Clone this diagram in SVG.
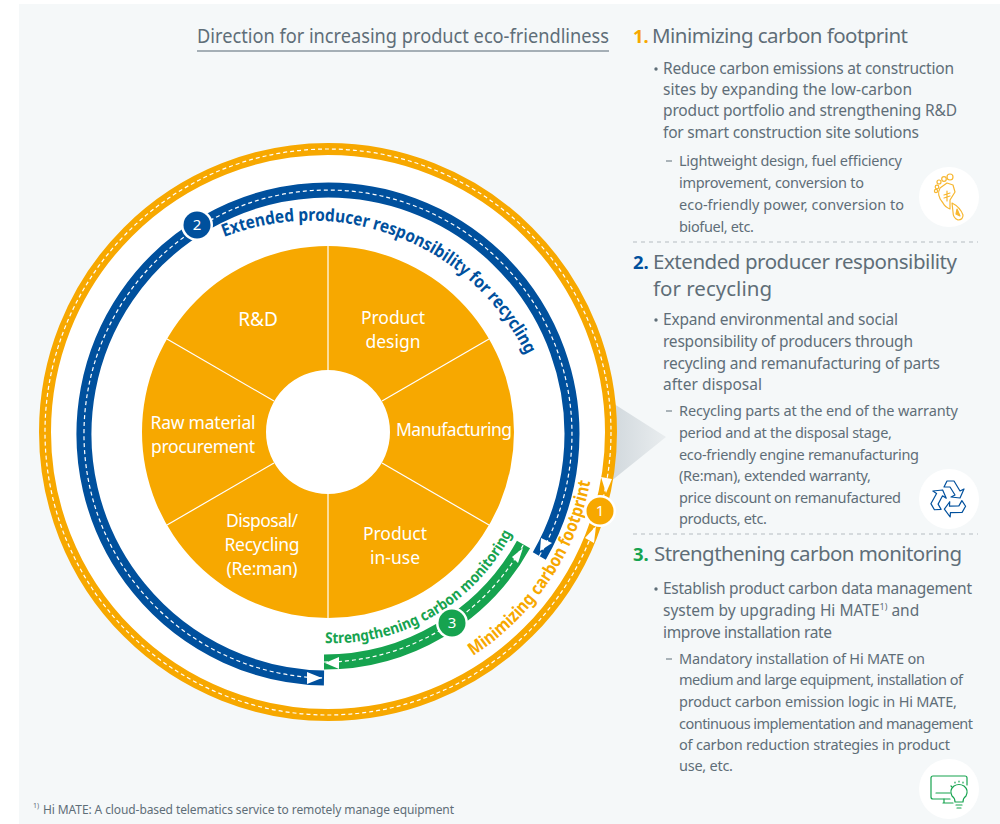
<svg xmlns="http://www.w3.org/2000/svg" width="1000" height="824" viewBox="0 0 1000 824">
<style>
text{font-family:"Noto Sans","Liberation Sans",sans-serif;fill:#5f6e78}
.h{font-size:20.5px}
.b{font-size:15.5px}
.s{font-size:14.5px}
.w{font-size:17.5px;fill:#fff;text-anchor:middle}
.n{font-size:15px;fill:#fff;text-anchor:middle}
.cb{font-weight:700;font-size:17.5px;fill:#00509d}
.cg{font-weight:700;font-size:15px;fill:#16a34f}
.co{font-weight:700;font-size:17.5px;fill:#f7a800}
.num{font-weight:700;font-size:18.5px}
.dash{fill:none;stroke:#fff;stroke-width:1.2;stroke-dasharray:4 3}
.sep{stroke:#b5bcc1;stroke-width:1;stroke-dasharray:4 4}
.ico{fill:none;stroke-width:1.2;stroke-linejoin:round;stroke-linecap:round}
</style>
<defs>
<linearGradient id="tri" x1="0" y1="0" x2="1" y2="0"><stop offset="0" stop-color="#ccd4d9"/><stop offset="1" stop-color="#e9edef"/></linearGradient>
<path id="pb" d="M224,237 A240,240 0 0 1 541,393"/>
<path id="pg" d="M325,643 A200,200 0 0 0 517,522"/>
<path id="po" d="M473,656 A267,267 0 0 0 593,465"/>
<path id="rec" d="M-5,-12 L-2,-18 H5 L11,-8 L15,-10 L11,-1 L2,-2 L6,-4 L1,-12Z"/>
</defs>
<rect x="19" y="4" width="981" height="820" fill="#f5f8f9"/>
<polygon points="600,395 666,437 600,490" fill="url(#tri)"/>
<g id="title"><text x="197" y="43" font-size="19.5" textLength="412" lengthAdjust="spacingAndGlyphs">Direction for increasing product eco-friendliness</text>
<line x1="197" y1="51" x2="609" y2="51" stroke="#8a979f" stroke-width="1.5"/></g>
<g id="connectors">
<circle cx="328" cy="432" r="279" fill="#fff" stroke="#eef2f4" stroke-width="2"/>
<circle cx="328" cy="432" r="283" fill="none" stroke="#f7a800" stroke-width="12"/>
<circle cx="328" cy="432" r="283" class="dash"/>
<polygon points="606,493 601,477 612,479" fill="#fff"/>
<polygon points="596,526 585,538 594,543" fill="#fff"/>
<path d="M539.3,556 A244,244 0 1 0 324,678" fill="none" stroke="#00509d" stroke-width="15"/>
<path d="M539.3,556 A244,244 0 1 0 324,678" class="dash"/>
<polygon points="322,678 307,672 307,684" fill="#fff"/>
<polygon points="540,551 541,538 552,543" fill="#fff"/>
<path d="M324,662 A228,228 0 0 0 523.5,544.5" fill="none" stroke="#16a34f" stroke-width="15"/>
<path d="M324,662 A228,228 0 0 0 523.5,544.5" class="dash"/>
<polygon points="325,663 339,657 339,669" fill="#fff"/>
<polygon points="523,548 512,557 518,563" fill="#fff"/>
<text class="cb"><textPath href="#pb" textLength="356" lengthAdjust="spacingAndGlyphs">Extended producer responsibility for recycling</textPath></text>
<text class="cg"><textPath href="#pg" textLength="229" lengthAdjust="spacingAndGlyphs">Strengthening carbon monitoring</textPath></text>
<text class="co"><textPath href="#po" textLength="216" lengthAdjust="spacingAndGlyphs">Minimizing carbon footprint</textPath></text>
</g>
<g id="badge-1"><circle cx="600" cy="511" r="16" fill="#fff"/><circle cx="600" cy="511" r="13.500" fill="#f7a800"/><text class="n" x="600" y="516">1</text></g>
<g id="badge-2"><circle cx="197" cy="225" r="16" fill="#fff"/><circle cx="197" cy="225" r="13.500" fill="#00509d"/><text class="n" x="197" y="230">2</text></g>
<g id="badge-3"><circle cx="452" cy="623" r="16" fill="#fff"/><circle cx="452" cy="623" r="13.500" fill="#16a34f"/><text class="n" x="452" y="628">3</text></g>
<g id="wheel">
<path fill-rule="evenodd" fill="#f7a800" d="M142,432 a186,186 0 1 1 372,0 a186,186 0 1 1 -372,0 Z M266,432 a62,62 0 1 0 124,0 a62,62 0 1 0 -124,0 Z"/>
<g stroke="#fff" stroke-width="1.2"><line x1="328" y1="246" x2="328" y2="370"/><line x1="328" y1="494" x2="328" y2="618"/><line x1="167" y1="339" x2="274" y2="401"/><line x1="489" y1="339" x2="382" y2="401"/><line x1="167" y1="525" x2="274" y2="463"/><line x1="489" y1="525" x2="382" y2="463"/></g>
</g>
<g id="rd"><text class="w" x="258" y="326" style="font-size:19px">R&amp;D</text></g>
<g id="design"><text class="w" x="393" y="324" textLength="64">Product</text><text class="w" x="393" y="348" textLength="55">design</text></g>
<g id="manufacturing"><text class="w" x="454" y="436" textLength="116">Manufacturing</text></g>
<g id="inuse"><text class="w" x="395" y="540" textLength="64">Product</text><text class="w" x="395" y="564" textLength="50">in-use</text></g>
<g id="disposal"><text class="w" x="262" y="527" textLength="72">Disposal/</text><text class="w" x="262" y="551" textLength="75">Recycling</text><text class="w" x="262" y="575" textLength="71">(Re:man)</text></g>
<g id="raw"><text class="w" x="203" y="429" textLength="105">Raw material</text><text class="w" x="203" y="453" textLength="104">procurement</text></g>
<g id="section-1">
<text class="num" x="633" y="43" style="fill:#f7a800">1.</text>
<text class="h" x="652" y="43" textLength="256">Minimizing carbon footprint</text>
<circle cx="656" cy="69" r="1.7" fill="#5f6e78"/>
<text class="b" x="663" y="74" textLength="291">Reduce carbon emissions at construction</text>
<text class="b" x="663" y="95" textLength="249">sites by expanding the low-carbon</text>
<text class="b" x="663" y="116" textLength="294">product portfolio and strengthening R&amp;D</text>
<text class="b" x="663" y="138" textLength="256">for smart construction site solutions</text>
<line x1="666" y1="161" x2="672" y2="161" stroke="#5f6e78"/>
<text class="s" x="679" y="166" textLength="223">Lightweight design, fuel efficiency</text>
<text class="s" x="679" y="188" textLength="185">improvement, conversion to</text>
<text class="s" x="679" y="210" textLength="225">eco-friendly power, conversion to</text>
<text class="s" x="679" y="232" textLength="75">biofuel, etc.</text>
<circle cx="949" cy="197" r="30" fill="#fff"/>
<g class="ico" stroke="#f7b731"><path d="M940,188 L947,183 L953,185 L955,192 L950,200 L950,209 Q945,207 943,203 Q936,195 940,188Z"/><circle cx="950" cy="177" r="3"/><circle cx="944" cy="179" r="2.300"/><circle cx="939" cy="182" r="2"/><circle cx="937" cy="187" r="1.800"/><circle cx="936" cy="191" r="1.600"/><path d="M952,203 Q960,207 963,215 Q963,220 958,220 Q953,218 953,212 Z"/><path d="M947,191 V201 M944,195 L950,193 M944,198 L950,196"/><path d="M957,209 L960,216 L956,214Z" fill="#f7b731"/></g>
</g>
<line class="sep" x1="633" y1="242" x2="978" y2="242"/>
<g id="section-2">
<text class="num" x="633" y="269" style="fill:#00509d">2.</text>
<text class="h" x="653" y="269" textLength="304">Extended producer responsibility</text>
<text class="h" x="653" y="296" textLength="119">for recycling</text>
<circle cx="656" cy="320" r="1.7" fill="#5f6e78"/>
<text class="b" x="663" y="325" textLength="235">Expand environmental and social</text>
<text class="b" x="663" y="347" textLength="250">responsibility of producers through</text>
<text class="b" x="663" y="369" textLength="277">recycling and remanufacturing of parts</text>
<text class="b" x="663" y="390" textLength="99">after disposal</text>
<line x1="666" y1="411" x2="672" y2="411" stroke="#5f6e78"/>
<text class="s" x="679" y="416" textLength="279">Recycling parts at the end of the warranty</text>
<text class="s" x="679" y="438" textLength="213">period and at the disposal stage,</text>
<text class="s" x="679" y="460" textLength="240">eco-friendly engine remanufacturing</text>
<text class="s" x="679" y="481" textLength="192">(Re:man), extended warranty,</text>
<text class="s" x="679" y="503" textLength="222">price discount on remanufactured</text>
<text class="s" x="679" y="524" textLength="88">products, etc.</text>
<circle cx="949" cy="499" r="30" fill="#fff"/>
<g class="ico" stroke="#00509d"><use href="#rec" transform="translate(949,499)"/><use href="#rec" transform="translate(949,499) rotate(120)"/><use href="#rec" transform="translate(949,499) rotate(240)"/></g>
</g>
<line class="sep" x1="633" y1="534" x2="978" y2="534"/>
<g id="section-3">
<text class="num" x="633" y="561" style="fill:#16a34f">3.</text>
<text class="h" x="654" y="561" textLength="308">Strengthening carbon monitoring</text>
<circle cx="656" cy="589" r="1.7" fill="#5f6e78"/>
<text class="b" x="663" y="594" textLength="309">Establish product carbon data management</text>
<text class="b" x="663" y="616">system by upgrading Hi MATE<tspan font-size="9" dy="-6">1)</tspan><tspan dy="6"> and</tspan></text>
<text class="b" x="663" y="638" textLength="169">improve installation rate</text>
<line x1="666" y1="659" x2="672" y2="659" stroke="#5f6e78"/>
<text class="s" x="679" y="664" textLength="246">Mandatory installation of Hi MATE on</text>
<text class="s" x="679" y="685" textLength="284">medium and large equipment, installation of</text>
<text class="s" x="679" y="707" textLength="278">product carbon emission logic in Hi MATE,</text>
<text class="s" x="679" y="729" textLength="294">continuous implementation and management</text>
<text class="s" x="679" y="750" textLength="271">of carbon reduction strategies in product</text>
<text class="s" x="679" y="771" textLength="54">use, etc.</text>
<circle cx="949" cy="789" r="30" fill="#fff"/>
<g class="ico" stroke="#16a34f"><path d="M950,799 H933 Q931,799 931,797 V778 Q931,776 933,776 H965 Q967,776 967,778 V785"/><path d="M936,793 H950 M944,799 V803 M943,803 H953"/><path d="M956,805 H962 M957,808 H961 M955,802 Q955,798 952,796 Q949,790 954,786 Q959,783 964,786 Q969,790 966,796 Q963,798 963,802Z"/><path d="M951,786 L952,787 M955,782 L955,783 M959,781 L959,782 M963,782 L963,783"/></g>
</g>
<g id="footnote"><text x="33" y="808" font-size="7">1)</text><text x="43" y="814" font-size="12" textLength="411">Hi MATE: A cloud-based telematics service to remotely manage equipment</text></g>
</svg>
